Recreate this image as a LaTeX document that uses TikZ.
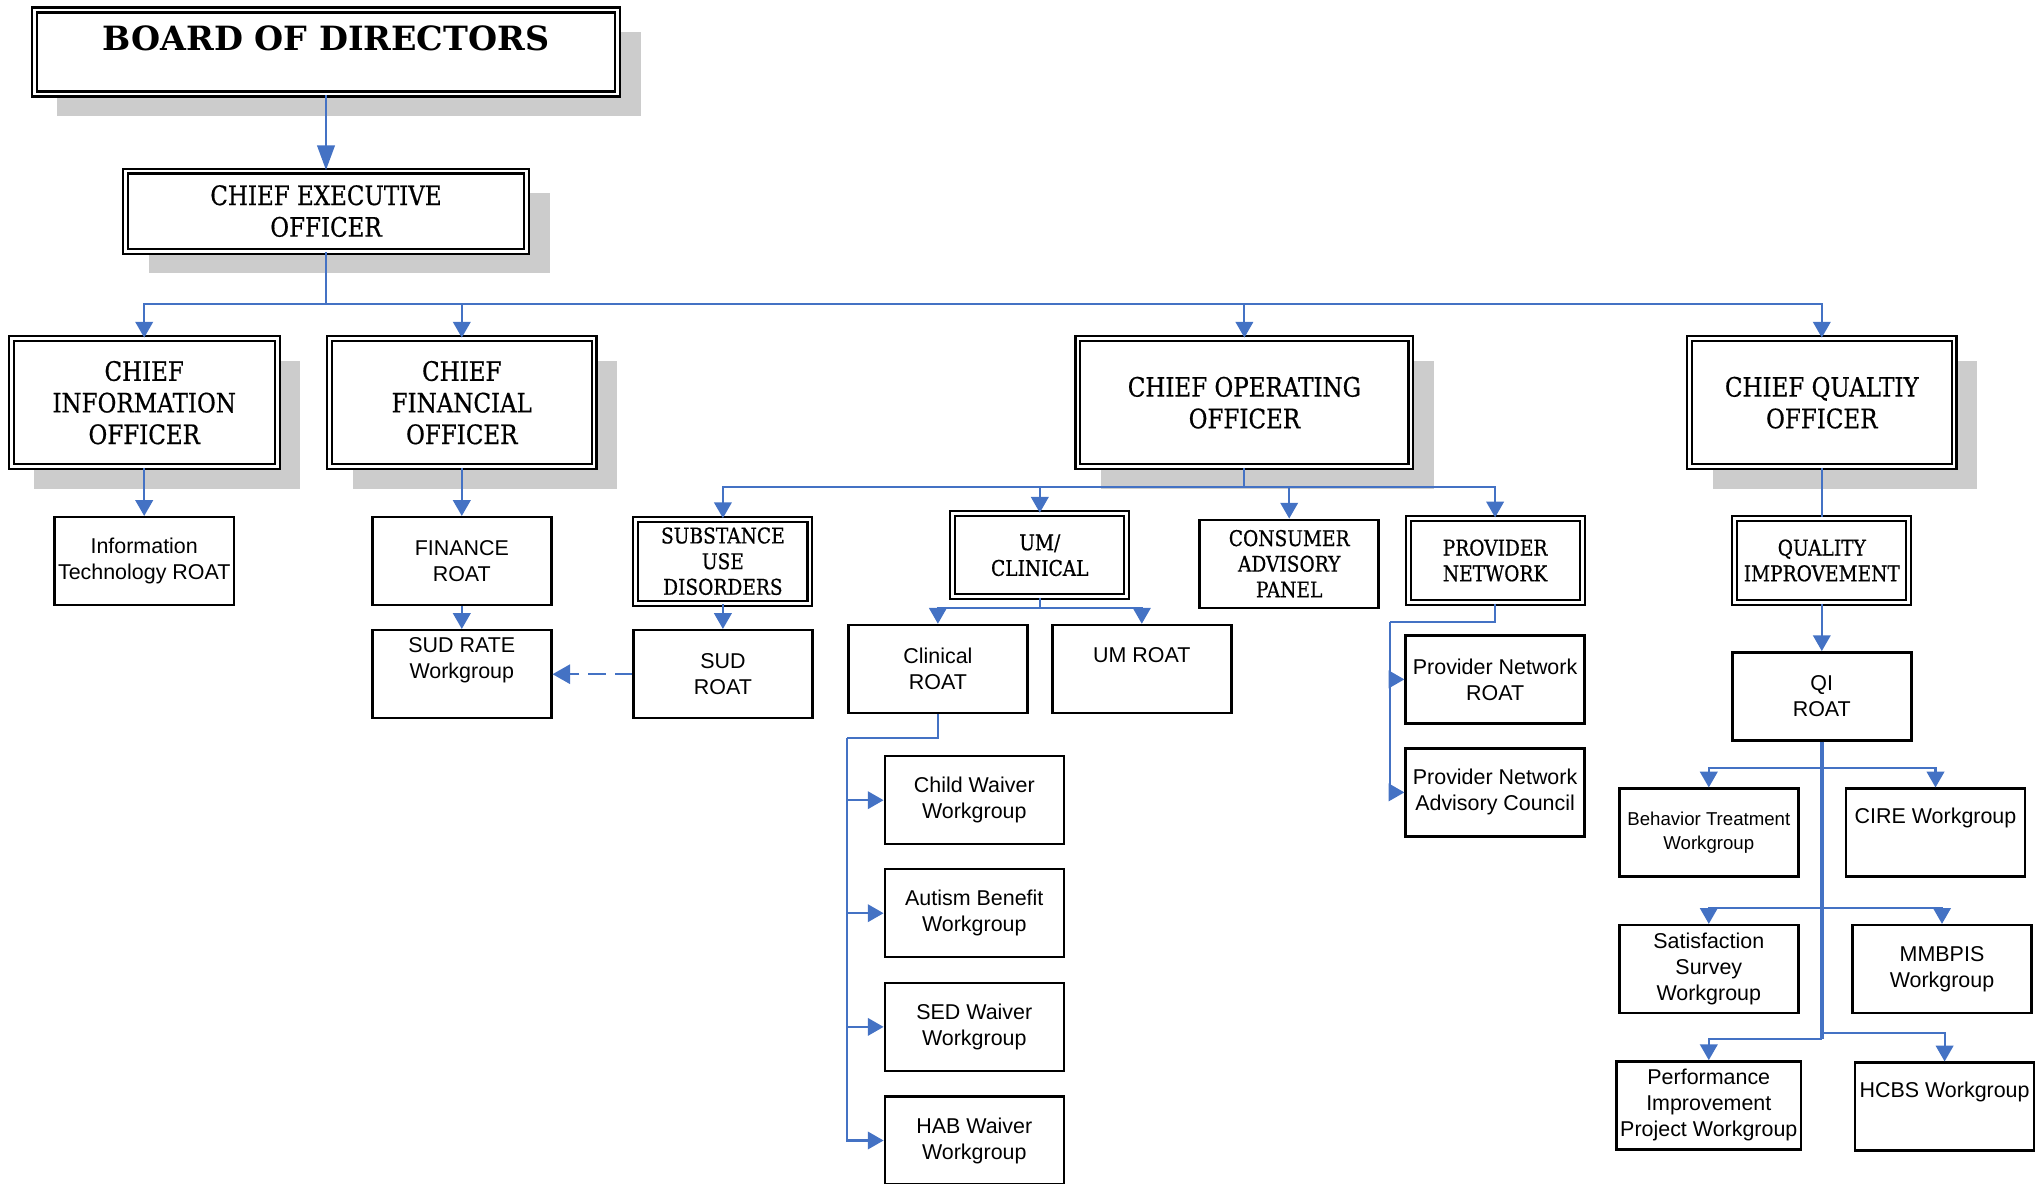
\documentclass[tikz,border=0pt]{standalone}
\usepackage{fontspec}
\setmainfont{Liberation Sans}
\newfontfamily\slab{DejaVu Serif}[FakeStretch=0.86,FakeBold=0.6]
\newfontfamily\slabwide{DejaVu Serif}
\usetikzlibrary{arrows.meta,shadows}
\definecolor{linkblue}{RGB}{68,114,196}
\definecolor{shadowgray}{RGB}{204,204,204}

\begin{document}
\begin{tikzpicture}[x=1cm,y=-1cm]
      \tikzset{box/.style={draw, line width=0.7pt, fill=white,
          minimum width=1.79cm, minimum height=0.88cm, inner sep=1pt,
          align=center, font=\fontsize{6.1}{7.4}\selectfont},
        dbox/.style={box, double, line width=0.6pt, double distance=0.8pt,
          minimum width=1.74cm, minimum height=0.84cm,
          font=\slab\fontsize{6.15}{7.3}\selectfont},
        officer/.style={dbox, font=\slab\fontsize{7.6}{9}\selectfont,
          drop shadow={shadow xshift=0.23cm, shadow yshift=-0.22cm,
            fill=shadowgray, opacity=1}},
        link/.style={draw=linkblue, line width=0.6pt},
        arr/.style={link, -{Triangle[length=4.5pt,width=5pt]}}
      }
      \useasboundingbox (0,0) rectangle (20.37,11.84);

      % officers
      \node [officer, font=\slabwide\bfseries\fontsize{9.5}{11}\selectfont,
        minimum width=5.83cm, text depth=8pt] (board) at (3.26,0.52) {BOARD OF DIRECTORS};
      \node [officer, minimum width=4.01cm, minimum height=0.80cm] (ceo) at (3.26,2.111) {CHIEF EXECUTIVE\\OFFICER};
      \node [officer, minimum width=2.66cm, minimum height=1.28cm] (cio) at (1.442,4.027) {CHIEF\\INFORMATION\\OFFICER};
      \node [officer, minimum width=2.645cm, minimum height=1.28cm] (cfo) at (4.618,4.027) {CHIEF\\FINANCIAL\\OFFICER};
      \node [officer, minimum width=3.33cm, minimum height=1.28cm] (coo) at (12.444,4.027) {CHIEF OPERATING\\OFFICER};
      \node [officer, minimum width=2.645cm, minimum height=1.28cm] (cqo) at (18.218,4.027) {CHIEF QUALTIY\\OFFICER};

      % departments
      \node [dbox] (sud) at (7.229,5.612) {SUBSTANCE\\USE\\DISORDERS};
      \node [dbox, minimum height=0.83cm] (umclin) at (10.398,5.553) {UM/\\CLINICAL};
      \node [box, font=\slab\fontsize{6.15}{7.3}\selectfont] (consumer) at (12.892,5.638) {CONSUMER\\ADVISORY\\PANEL};
      \node [dbox] (provider) at (14.951,5.605) {PROVIDER\\NETWORK};
      \node [dbox] (quality) at (18.218,5.605) {QUALITY\\IMPROVEMENT};

      % roats and workgroups
      \node [box] (itroat) at (1.442,5.612) {Information\\Technology ROAT};
      \node [box] (finroat) at (4.618,5.612) {FINANCE\\ROAT};
      \node [box, text depth=9pt] (sudrate) at (4.618,6.742) {SUD RATE\\Workgroup};
      \node [box] (sudroat) at (7.229,6.742) {SUD\\ROAT};
      \node [box] (clinical) at (9.379,6.690) {Clinical\\ROAT};
      \node [box, text depth=8.2pt] (umroat) at (11.418,6.690) {UM ROAT};
      \node [box] (child) at (9.743,8.002) {Child Waiver\\Workgroup};
      \node [box] (autism) at (9.743,9.132) {Autism Benefit\\Workgroup};
      \node [box] (sed) at (9.743,10.269) {SED Waiver\\Workgroup};
      \node [box] (hab) at (9.743,11.405) {HAB Waiver\\Workgroup};
      \node [box] (pnroat) at (14.951,6.794) {Provider Network\\ROAT};
      \node [box] (pnadv) at (14.951,7.924) {Provider Network\\Advisory Council};
      \node [box] (qiroat) at (18.218,6.963) {QI\\ROAT};
      \node [box, font=\fontsize{5.3}{6.6}\selectfont] (behavior) at (17.088,8.327) {Behavior Treatment\\Workgroup};
      \node [box, text depth=9.5pt] (cire) at (19.355,8.327) {CIRE Workgroup};
      \node [box] (satis) at (17.088,9.691) {Satisfaction\\Survey\\Workgroup};
      \node [box] (mmbpis) at (19.420,9.691) {MMBPIS\\Workgroup};
      \node [box] (perf) at (17.088,11.054) {Performance\\Improvement\\Project Workgroup};
      \node [box, text depth=9.5pt] (hcbs) at (19.446,11.067) {HCBS Workgroup};

      % connectors
      \draw [link, -{Triangle[length=7pt,width=5pt]}] (board.south) -- (ceo.north);
      \coordinate (ceobus) at (3.26,3.04);
      \draw [link] (ceo.south) -- (ceobus);
      \foreach \n in {cio,cfo,coo,cqo} \draw [arr] (ceobus) -| (\n.north);

      \draw [arr] (cio.south) -- (itroat.north);
      \draw [arr] (cfo.south) -- (finroat.north);
      \draw [arr] (finroat.south) -- (sudrate.north);
      \draw [arr, dash pattern=on 5pt off 2.5pt, -{Triangle[length=5pt,width=5.5pt]}] (sudroat.west) -- (sudrate.east);

      \coordinate (coobus) at (12.444,4.871);
      \draw [link] (coo.south) -- (coobus);
      \foreach \n in {sud,umclin,consumer,provider} \draw [arr] (coobus) -| (\n.north);
      \draw [arr] (sud.south) -- (sudroat.north);

      \coordinate (umbus) at (10.398,6.079);
      \draw [link] (umclin.south) -- (umbus);
      \draw [arr] (umbus) -| (clinical.north);
      \draw [arr] (umbus) -| (umroat.north);

      \coordinate (clbus) at (8.469,7.378);
      \draw [link] (clinical.south) |- (clbus);
      \foreach \n in {child,autism,sed,hab} \draw [arr] (clbus) |- (\n.west);

      \coordinate (pnbus) at (13.899,6.222);
      \draw [link] (provider.south) |- (pnbus);
      \foreach \n in {pnroat,pnadv} \draw [arr] (pnbus) |- (\n.west);

      \draw [link] (cqo.south) -- (quality.north);
      \draw [arr] (quality.south) -- (qiroat.north);
      \coordinate (qi1) at (18.218,7.677);
      \coordinate (qi2) at (18.218,9.080);
      \coordinate (qi3) at (18.218,10.392);
      \coordinate (qi4) at (18.218,10.327);
      \draw [link, line width=1pt] (qiroat.south) -- (qi3);
      \draw [arr] (qi1) -| (behavior.north);
      \draw [arr] (qi1) -| (cire.north);
      \draw [arr] (qi2) -| (satis.north);
      \draw [arr] (qi2) -| (mmbpis.north);
      \draw [arr] (qi3) -| (perf.north);
      \draw [arr] (qi4) -| (hcbs.north);
    \end{tikzpicture}
\end{document}
